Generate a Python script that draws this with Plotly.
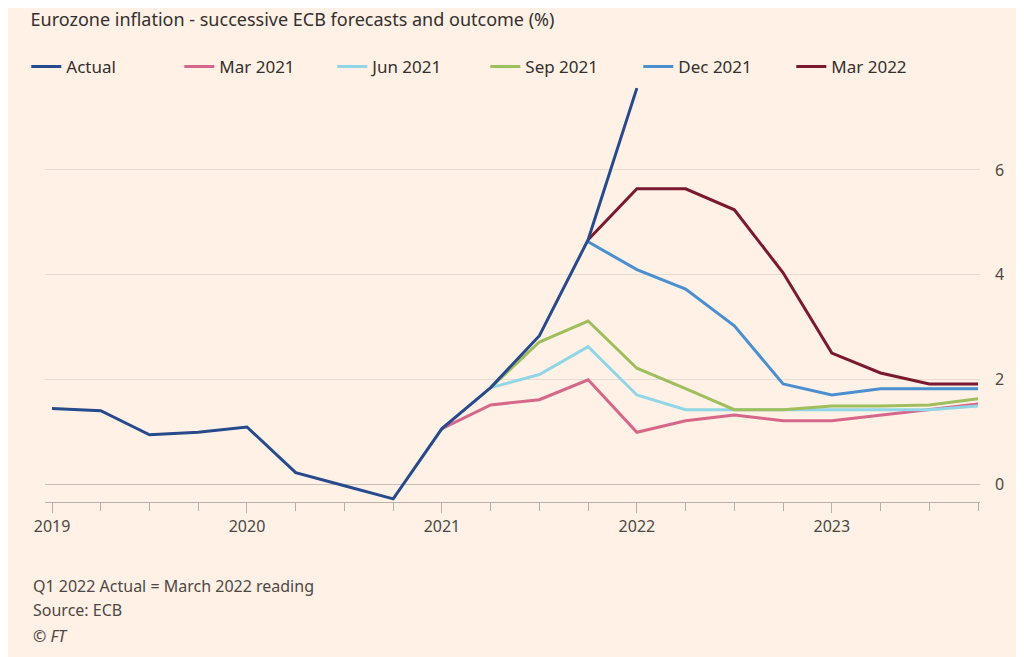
import plotly.graph_objects as go

quarters = [2019 + 0.25 * i for i in range(20)]
actual = [1.45, 1.41, 0.95, 1.0, 1.1, 0.23, -0.02, -0.27, 1.07, 1.85, 2.84, 4.67, 7.56]
mar21 = [1.07, 1.52, 1.62, 2.0, 1.0, 1.22, 1.33, 1.22, 1.22, 1.33, 1.43, 1.54]
jun21 = [1.85, 2.1, 2.63, 1.71, 1.43, 1.43, 1.43, 1.43, 1.43, 1.43, 1.5, 1.52]
sep21 = [1.85, 2.72, 3.12, 2.22, 1.83, 1.43, 1.43, 1.5, 1.5, 1.52, 1.64]
dec21 = [4.63, 4.1, 3.73, 3.03, 1.92, 1.71, 1.83, 1.83, 1.83]
mar22 = [4.67, 5.64, 5.64, 5.24, 4.04, 2.51, 2.13, 1.92, 1.92]

series = [
    ("Actual", quarters[:13], actual, "#264a8c"),
    ("Mar 2021", quarters[8:], mar21, "#d6668a"),
    ("Jun 2021", quarters[9:], jun21, "#90d6e6"),
    ("Sep 2021", quarters[9:], sep21, "#9fbe5d"),
    ("Dec 2021", quarters[11:], dec21, "#4a8fd0"),
    ("Mar 2022", quarters[11:], mar22, "#7a1930"),
]
draw_order = [1, 2, 3, 4, 5, 0]

T, B = 78, 163
PH = 657 - T - B

fig = go.Figure()
for i in draw_order:
    name, x, y, c = series[i]
    fig.add_trace(go.Scatter(x=x, y=y, name=name, mode="lines",
                             line=dict(color=c, width=3), legendrank=i + 1))

fig.update_layout(
    width=1024, height=657, paper_bgcolor="#FFF1E5", plot_bgcolor="#FFF1E5",
    margin=dict(l=37, r=52, t=T, b=B),
    font=dict(family="Noto Sans", size=16, color="#4d4845"),
    title=dict(text="Eurozone inflation - successive ECB forecasts and outcome (%)",
               x=0.022, xanchor="left", xref="container", yref="container",
               y=1 - 12 / 657, yanchor="middle",
               font=dict(size=18, color="#33302e")),
    legend=dict(orientation="h", x=-0.02, y=1 + 19 / PH, yanchor="middle", xanchor="left",
                font=dict(size=17, color="#33302e"), traceorder="normal",
                itemwidth=30, entrywidth=108, bgcolor="rgba(0,0,0,0)"),
    showlegend=True,
)
fig.update_xaxes(range=[2018.964, 2023.76], tickvals=[2019, 2020, 2021, 2022, 2023],
                 ticktext=["2019", "2020", "2021", "2022", "2023"],
                 showgrid=False, showline=True, linecolor="#b8b0a8", ticks="outside",
                 ticklen=10, tickcolor="#b8b0a8",
                 minor=dict(dtick=0.25, tick0=2019, ticks="outside", ticklen=8, tickcolor="#b8b0a8"),
                 zeroline=False, tickfont=dict(size=16))
fig.update_yaxes(range=[-0.33, 7.6], side="right", tickvals=[0, 2, 4, 6],
                 showgrid=True, gridcolor="#e6dcd3", zeroline=True, zerolinecolor="#c8bfb6",
                 zerolinewidth=1, ticks="", ticklabelstandoff=14, tickfont=dict(size=16))

for txt, yy in [("Q1 2022 Actual = March 2022 reading", 578), ("Source: ECB", 602), ("<i>© FT</i>", 628)]:
    fig.add_annotation(text=txt, xref="paper", yref="paper", x=-0.015, xanchor="left",
                       y=1 - (yy - T) / PH, yanchor="middle", showarrow=False,
                       font=dict(size=16, color="#4d4845"))

fig.write_html("out.html")
